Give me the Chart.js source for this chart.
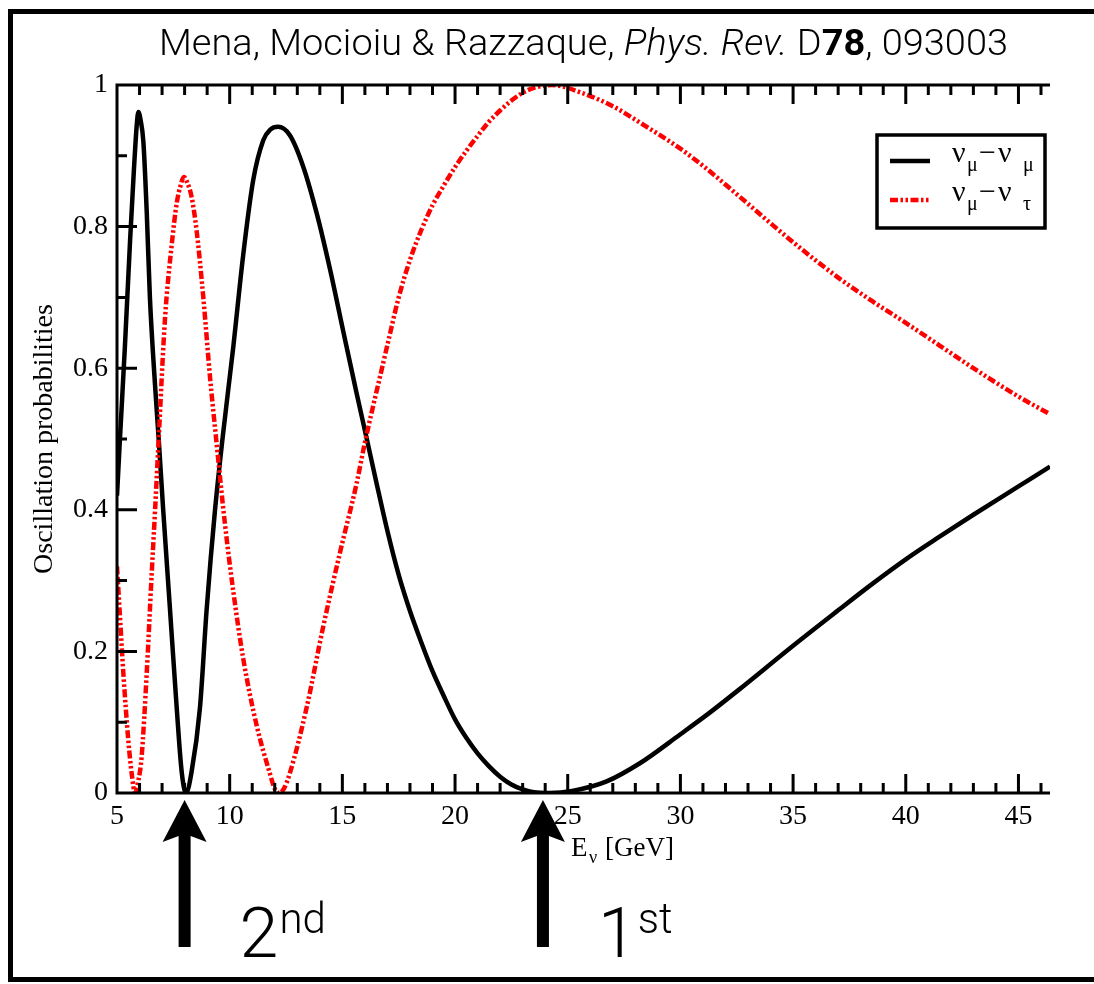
<!DOCTYPE html>
<html>
<head>
<meta charset="utf-8">
<script src="https://cdn.jsdelivr.net/npm/chart.js@4.4.1/dist/chart.umd.min.js"></script>
<style>
  html, body { margin: 0; padding: 0; background: #fff; overflow: hidden; }
  canvas { display: block; }
</style>
</head>
<body>
<canvas id="mychart" width="1094" height="984"></canvas>
<script>
// nu_mu -> nu_mu survival probability vs neutrino energy (GeV)
const energyMuMu = [5.0, 5.13, 5.35, 5.58, 5.75, 5.88, 5.95, 6.05, 6.17, 6.32, 6.46, 6.69, 6.85, 7.05, 7.35, 7.65, 7.87, 8.06, 8.31, 8.68, 8.98, 9.35, 9.68, 10.16, 10.6, 11.04, 11.49, 11.8, 12.15, 12.67, 13.26, 13.86, 14.45, 15.04, 15.63, 16.05, 16.5, 17.0, 17.5, 18.0, 18.5, 19.0, 19.5, 20.0, 20.5, 21.0, 21.5, 22.0, 22.5, 23.0, 23.5, 24.2, 25.2, 26.7, 28.2, 30.0, 31.2, 32.6, 35.0, 37.0, 38.5, 40.0, 41.5, 43.0, 45.0, 46.4];
const probMuMu = [0.42, 0.50, 0.63, 0.78, 0.88, 0.945, 0.962, 0.95, 0.92, 0.82, 0.70, 0.575, 0.50, 0.40, 0.26, 0.12, 0.03, 0.0, 0.03, 0.12, 0.26, 0.40, 0.50, 0.63, 0.76, 0.865, 0.922, 0.937, 0.941, 0.929, 0.885, 0.819, 0.740, 0.652, 0.565, 0.505, 0.440, 0.370, 0.308, 0.257, 0.213, 0.172, 0.137, 0.104, 0.078, 0.056, 0.038, 0.023, 0.012, 0.005, 0.001, 0.0, 0.003, 0.016, 0.042, 0.083, 0.111, 0.146, 0.208, 0.258, 0.295, 0.330, 0.362, 0.393, 0.433, 0.461];

// nu_mu -> nu_tau appearance probability
const energyMuTau = [5.0, 5.14, 5.28, 5.5, 5.65, 5.8, 5.95, 6.09, 6.32, 6.54, 6.69, 6.85, 7.13, 7.42, 7.65, 7.82, 7.97, 8.12, 8.31, 8.53, 8.83, 9.12, 9.4, 9.79, 10.16, 10.6, 11.2, 11.78, 12.0, 12.2, 12.42, 12.67, 13.41, 14.15, 14.89, 15.63, 16.0, 16.81, 17.0, 17.5, 18.0, 18.5, 19.0, 19.5, 20.0, 20.5, 21.0, 21.5, 22.0, 22.5, 23.0, 23.5, 24.3, 25.7, 27.0, 28.2, 30.0, 31.15, 32.6, 35.0, 37.0, 38.5, 40.0, 41.5, 43.0, 45.0, 46.4];
const probMuTau = [0.32, 0.245, 0.17, 0.075, 0.028, 0.0, 0.018, 0.05, 0.17, 0.31, 0.40, 0.50, 0.67, 0.772, 0.833, 0.858, 0.870, 0.862, 0.842, 0.795, 0.70, 0.59, 0.50, 0.38, 0.285, 0.19, 0.095, 0.028, 0.006, 0.0, 0.007, 0.028, 0.12, 0.235, 0.339, 0.437, 0.495, 0.607, 0.633, 0.700, 0.753, 0.795, 0.830, 0.858, 0.884, 0.907, 0.928, 0.948, 0.964, 0.978, 0.989, 0.996, 1.0, 0.988, 0.97, 0.947, 0.910, 0.882, 0.843, 0.778, 0.728, 0.695, 0.664, 0.632, 0.600, 0.560, 0.535];

const xTickValues = [5, 10, 15, 20, 25, 30, 35, 40, 45];
const yTickValues = [0, 0.2, 0.4, 0.6, 0.8, 1];
const yTickLabels = ['0', '0.2', '0.4', '0.6', '0.8', '1'];

// oscillation minima marked with arrows
const arrowEnergies = [8.0, 23.9];
const arrowLabels = [['2', 'nd'], ['1', 'st']];

const SERIF = '"Liberation Serif", "Times New Roman", serif';
const SANS = 'Roboto, "Liberation Sans", Arial, sans-serif';

function toPoints(xs, ys) {
  return xs.map((x, i) => ({ x: x, y: ys[i] }));
}

// white page + frame round the whole figure (its right side runs off the page)
const pageFrame = {
  id: 'pageFrame',
  beforeDraw(chart) {
    const ctx = chart.ctx;
    ctx.save();
    ctx.fillStyle = '#fff';
    ctx.fillRect(0, 0, chart.width, chart.height);
    ctx.restore();
  },
  afterDraw(chart) {
    const ctx = chart.ctx;
    ctx.save();
    ctx.strokeStyle = '#000';
    ctx.lineWidth = 5;
    ctx.beginPath();
    ctx.moveTo(chart.width + 10, 11.5);
    ctx.lineTo(10.5, 11.5);
    ctx.lineTo(10.5, 979.5);
    ctx.lineTo(chart.width + 10, 979.5);
    ctx.stroke();
    ctx.restore();
  }
};

// axis lines and inward ticks (left, top, bottom)
const axisTicks = {
  id: 'axisTicks',
  afterDatasetsDraw(chart) {
    const { ctx, chartArea: a, scales: { x, y } } = chart;
    ctx.save();
    ctx.strokeStyle = '#000';
    ctx.lineWidth = 3;
    ctx.lineCap = 'butt';
    ctx.beginPath();
    ctx.moveTo(a.right, a.top);
    ctx.lineTo(a.left, a.top);
    ctx.lineTo(a.left, a.bottom);
    ctx.lineTo(a.right, a.bottom);
    ctx.stroke();

    ctx.beginPath();
    for (let e = 6; e <= x.max; e++) {
      const px = x.getPixelForValue(e);
      const len = e % 5 === 0 ? 19 : 10;
      ctx.moveTo(px, a.bottom);
      ctx.lineTo(px, a.bottom - len);
      ctx.moveTo(px, a.top);
      ctx.lineTo(px, a.top + len);
    }
    for (let k = 1; k < 10; k++) {
      const py = y.getPixelForValue(k / 10);
      const len = k % 2 === 0 ? 20 : 10;
      ctx.moveTo(a.left, py);
      ctx.lineTo(a.left + len, py);
    }
    ctx.stroke();
    ctx.restore();
  }
};

// citation line above the plot
const citation = {
  id: 'citation',
  afterDraw(chart) {
    const { ctx, chartArea: a } = chart;
    const parts = [
      { text: 'Mena, Mocioiu & Razzaque, ', font: '300 37px ' + SANS },
      { text: 'Phys. Rev.', font: 'italic 300 37px ' + SANS },
      { text: ' D', font: '300 37px ' + SANS },
      { text: '78', font: 'bold 37px ' + SANS },
      { text: ', 093003', font: '300 37px ' + SANS }
    ];
    ctx.save();
    let total = 0;
    parts.forEach(p => { ctx.font = p.font; p.w = ctx.measureText(p.text).width; total += p.w; });
    const target = 849;
    const sx = target / total;
    const cx = (a.left + a.right) / 2;
    ctx.translate(cx - target / 2, 55);
    ctx.scale(sx, 1);
    ctx.fillStyle = '#000';
    ctx.textBaseline = 'alphabetic';
    let xx = 0;
    parts.forEach(p => { ctx.font = p.font; ctx.fillText(p.text, xx, 0); xx += p.w; });
    ctx.restore();
  }
};

// x axis title E_nu [GeV]
const energyTitle = {
  id: 'energyTitle',
  afterDraw(chart) {
    const ctx = chart.ctx;
    ctx.save();
    ctx.fillStyle = '#000';
    ctx.textBaseline = 'alphabetic';
    ctx.font = '27px ' + SERIF;
    ctx.fillText('E', 571, 856);
    ctx.font = '18px ' + SERIF;
    ctx.fillText('ν', 589, 863);
    ctx.font = '27px ' + SERIF;
    ctx.fillText('[GeV]', 605, 856);
    ctx.restore();
  }
};

// legend with sub-scripted flavour labels
const flavourLegend = {
  id: 'flavourLegend',
  afterDraw(chart) {
    const { ctx, chartArea: a } = chart;
    const right = a.right - 5, top = a.top + 50;
    const left = right - 168, bottom = top + 93;
    const subs = [['μ', 'μ'], ['μ', 'τ']];
    const rows = [top + 27, top + 66];
    ctx.save();
    ctx.fillStyle = '#fff';
    ctx.fillRect(left, top, right - left, bottom - top);
    ctx.strokeStyle = '#000';
    ctx.lineWidth = 3.5;
    ctx.strokeRect(left, top, right - left, bottom - top);

    chart.data.datasets.forEach((ds, i) => {
      const yy = rows[i];
      ctx.strokeStyle = ds.borderColor;
      ctx.lineWidth = ds.borderWidth;
      ctx.setLineDash(ds.borderDash || []);
      ctx.beginPath();
      ctx.moveTo(left + 13, yy - 1);
      ctx.lineTo(left + 53, yy - 1);
      ctx.stroke();
      ctx.setLineDash([]);

      const tx = left + 75;
      ctx.fillStyle = '#000';
      ctx.textBaseline = 'alphabetic';
      ctx.font = '30px ' + SERIF;
      ctx.fillText('ν', tx, yy);
      ctx.font = '20px ' + SERIF;
      ctx.fillText(subs[i][0], tx + 15, yy + 9);
      ctx.font = '30px ' + SERIF;
      ctx.fillText('−', tx + 27, yy);
      ctx.fillText('ν', tx + 46, yy);
      ctx.font = '20px ' + SERIF;
      ctx.fillText(subs[i][1], tx + 71, yy + 9);
    });
    ctx.restore();
  }
};

// arrows under the axis with their ordinal labels
const minimaArrows = {
  id: 'minimaArrows',
  afterDraw(chart) {
    const { ctx, chartArea: a, scales: { x } } = chart;
    ctx.save();
    ctx.fillStyle = '#000';
    arrowEnergies.forEach((e, i) => {
      const ax = x.getPixelForValue(e);
      const tip = a.bottom + 7;
      const headH = 42, headW = 22, shaft = 6, end = 947;
      ctx.beginPath();
      ctx.moveTo(ax, tip);
      ctx.lineTo(ax + headW, tip + headH);
      ctx.lineTo(ax + shaft, tip + headH - 6);
      ctx.lineTo(ax + shaft, end);
      ctx.lineTo(ax - shaft, end);
      ctx.lineTo(ax - shaft, tip + headH - 6);
      ctx.lineTo(ax - headW, tip + headH);
      ctx.closePath();
      ctx.fill();

      const [num, suf] = arrowLabels[i];
      ctx.textBaseline = 'alphabetic';
      ctx.font = '300 70px ' + SANS;
      const tx = ax + 55;
      ctx.fillText(num, tx, 957);
      const w = ctx.measureText(num).width;
      ctx.font = '300 42px ' + SANS;
      ctx.fillText(suf, tx + w + 1, 933);
    });
    ctx.restore();
  }
};

const ctx = document.getElementById('mychart').getContext('2d');
const myChart = new Chart(ctx, {
  type: 'line',
  data: {
    datasets: [
      {
        label: 'νμ−νμ',
        data: toPoints(energyMuMu, probMuMu),
        borderColor: '#000000',
        borderWidth: 4.5,
        pointRadius: 0,
        cubicInterpolationMode: 'monotone',
        order: 1
      },
      {
        label: 'νμ−ντ',
        data: toPoints(energyMuTau, probMuTau),
        borderColor: '#ff0000',
        borderWidth: 4.5,
        borderDash: [8, 2.5, 2.5, 2.5, 2.5, 2.5],
        pointRadius: 0,
        cubicInterpolationMode: 'monotone',
        order: 0
      }
    ]
  },
  options: {
    responsive: false,
    animation: false,
    devicePixelRatio: 1,
    layout: { padding: { left: 0, right: 44, top: 85, bottom: 0 } },
    scales: {
      x: {
        type: 'linear',
        min: 5,
        max: 46.4,
        grid: { display: false, drawTicks: false },
        border: { display: false },
        ticks: {
          color: '#000',
          padding: 7,
          maxRotation: 0,
          font: { family: SERIF, size: 28 }
        },
        afterBuildTicks(scale) {
          scale.ticks = xTickValues.map(v => ({ value: v }));
        },
        afterFit(scale) { scale.height = 191; }
      },
      y: {
        type: 'linear',
        min: 0,
        max: 1,
        grid: { display: false, drawTicks: false },
        border: { display: false },
        ticks: {
          color: '#000',
          padding: 9,
          font: { family: SERIF, size: 28 },
          callback: function (value) {
            const i = yTickValues.findIndex(v => Math.abs(v - value) < 1e-9);
            return i >= 0 ? yTickLabels[i] : '';
          }
        },
        afterBuildTicks(scale) {
          scale.ticks = yTickValues.map(v => ({ value: v }));
        },
        afterFit(scale) { scale.width = 117; },
        title: {
          display: true,
          text: 'Oscillation probabilities',
          color: '#000',
          font: { family: SERIF, size: 28 },
          padding: { top: 28, bottom: 0 }
        }
      }
    },
    plugins: {
      legend: { display: false },
      tooltip: { enabled: false }
    }
  },
  plugins: [pageFrame, axisTicks, citation, energyTitle, flavourLegend, minimaArrows]
});
</script>
</body>
</html>
